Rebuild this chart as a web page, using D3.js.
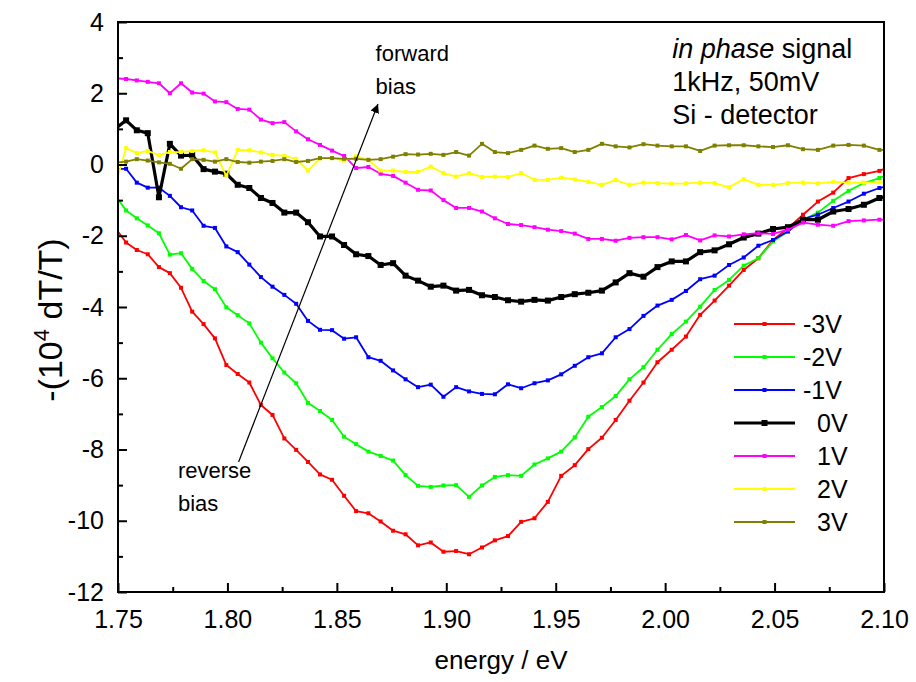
<!DOCTYPE html>
<html>
<head>
<meta charset="utf-8">
<script src="https://cdn.jsdelivr.net/npm/d3@7"></script>
<style>
  body { margin: 0; background: #fff; }
  svg text { font-family: "Liberation Sans", Arial, sans-serif; fill: #000; }
</style>
</head>
<body>
<div id="chart"></div>
<script>
//Data
const energy = [1.7487,1.7537,1.7586,1.7636,1.7687,1.7737,1.7788,1.7839,1.7891,1.7943,1.7995,1.8047,1.8100,1.8153,1.8206,1.8260,1.8314,1.8368,1.8423,1.8478,1.8533,1.8588,1.8644,1.8700,1.8757,1.8814,1.8871,1.8929,1.8987,1.9045,1.9104,1.9163,1.9222,1.9282,1.9342,1.9403,1.9464,1.9525,1.9587,1.9649,1.9711,1.9774,1.9837,1.9901,1.9965,2.0030,2.0095,2.0160,2.0226,2.0292,2.0359,2.0426,2.0493,2.0561,2.0630,2.0698,2.0768,2.0838,2.0908,2.0979,2.1050];

const minus3V = [-1.77,-2.19,-2.40,-2.52,-2.88,-3.05,-3.46,-4.13,-4.48,-4.88,-5.63,-5.88,-6.12,-6.75,-7.03,-7.69,-8.01,-8.35,-8.70,-8.85,-9.30,-9.73,-9.79,-10.02,-10.28,-10.38,-10.69,-10.61,-10.87,-10.85,-10.94,-10.75,-10.55,-10.43,-10.03,-9.93,-9.47,-8.74,-8.44,-7.99,-7.67,-7.17,-6.63,-6.12,-5.55,-5.20,-4.83,-4.22,-3.82,-3.40,-2.96,-2.63,-2.12,-1.79,-1.41,-1.04,-0.79,-0.38,-0.27,-0.18,0.00];
const minus2V = [-0.86,-1.29,-1.51,-1.71,-1.93,-2.53,-2.49,-2.93,-3.27,-3.50,-4.01,-4.23,-4.46,-5.00,-5.44,-5.84,-6.14,-6.69,-6.92,-7.17,-7.64,-7.85,-8.06,-8.18,-8.31,-8.72,-9.02,-9.05,-9.01,-9.00,-9.33,-9.01,-8.77,-8.72,-8.74,-8.42,-8.25,-8.06,-7.66,-7.08,-6.81,-6.50,-6.03,-5.69,-5.20,-4.76,-4.41,-3.99,-3.52,-3.24,-2.84,-2.63,-2.16,-1.88,-1.55,-1.35,-1.02,-0.74,-0.52,-0.38,-0.20];
const minus1V = [-0.12,-0.12,-0.51,-0.65,-0.65,-0.88,-1.20,-1.29,-1.72,-1.78,-2.30,-2.46,-2.81,-3.16,-3.43,-3.66,-3.91,-4.39,-4.64,-4.65,-4.89,-4.85,-5.41,-5.51,-5.78,-6.03,-6.25,-6.18,-6.52,-6.25,-6.37,-6.44,-6.45,-6.17,-6.28,-6.14,-6.06,-5.89,-5.65,-5.41,-5.30,-4.85,-4.62,-4.25,-3.96,-3.80,-3.55,-3.22,-3.12,-2.82,-2.61,-2.28,-2.12,-1.88,-1.53,-1.41,-1.22,-1.04,-0.82,-0.66,-0.55];
const zeroV = [1.00,1.24,0.96,0.88,-0.92,0.58,0.25,0.26,-0.13,-0.20,-0.26,-0.57,-0.66,-0.94,-1.08,-1.35,-1.35,-1.62,-2.02,-2.02,-2.26,-2.52,-2.57,-2.82,-2.77,-3.12,-3.26,-3.43,-3.40,-3.54,-3.52,-3.67,-3.72,-3.81,-3.85,-3.80,-3.82,-3.72,-3.64,-3.60,-3.54,-3.31,-3.05,-3.15,-2.88,-2.72,-2.72,-2.46,-2.41,-2.24,-2.05,-1.94,-1.81,-1.76,-1.55,-1.55,-1.32,-1.25,-1.13,-0.94,-0.85];
const plus1V = [2.42,2.40,2.36,2.32,2.28,2.00,2.28,2.02,1.99,1.77,1.75,1.56,1.54,1.26,1.16,1.19,0.93,0.71,0.55,0.39,0.24,-0.10,-0.07,-0.26,-0.32,-0.51,-0.71,-0.73,-1.00,-1.22,-1.22,-1.32,-1.51,-1.67,-1.70,-1.76,-1.83,-1.87,-1.94,-2.09,-2.09,-2.14,-2.06,-2.04,-2.04,-2.10,-1.98,-2.13,-1.99,-2.02,-1.96,-1.93,-1.95,-1.83,-1.63,-1.69,-1.72,-1.59,-1.57,-1.55,-1.55];
const plus2V = [-0.60,0.46,0.32,0.38,0.26,0.35,0.35,0.38,0.40,0.34,-0.32,0.41,0.40,0.34,0.27,0.24,0.16,-0.17,0.17,0.18,0.11,0.23,0.13,-0.17,-0.17,-0.21,-0.21,-0.06,-0.24,-0.34,-0.24,-0.35,-0.34,-0.35,-0.24,-0.43,-0.43,-0.37,-0.42,-0.49,-0.57,-0.44,-0.57,-0.51,-0.52,-0.54,-0.53,-0.51,-0.52,-0.64,-0.41,-0.57,-0.57,-0.52,-0.51,-0.53,-0.49,-0.51,-0.51,-0.50,-0.50];
const plus3V = [0.05,0.08,0.15,0.11,0.06,0.02,-0.12,0.15,0.13,0.08,0.15,0.07,0.05,0.08,0.10,0.15,0.07,0.10,0.18,0.18,0.16,0.16,0.13,0.15,0.22,0.29,0.28,0.30,0.27,0.35,0.25,0.58,0.35,0.32,0.41,0.53,0.44,0.46,0.35,0.41,0.58,0.51,0.48,0.57,0.53,0.51,0.51,0.38,0.53,0.54,0.54,0.51,0.49,0.54,0.43,0.41,0.53,0.55,0.53,0.41,0.42];

const seriesLabels = ['-3V', '-2V', '-1V', '0V', '1V', '2V', '3V'];
const seriesValues = [minus3V, minus2V, minus1V, zeroV, plus1V, plus2V, plus3V];
const seriesColors = ['#ff0000', '#00ff00', '#0000ff', '#000000', '#ff00ff', '#ffff00', '#808000'];

const xTicks = [1.75, 1.80, 1.85, 1.90, 1.95, 2.00, 2.05, 2.10];
const xMinor = [1.775, 1.825, 1.875, 1.925, 1.975, 2.025, 2.075];
const yTicks = [-12, -10, -8, -6, -4, -2, 0, 2, 4];
const yMinor = [-11, -9, -7, -5, -3, -1, 1, 3];

// arrow from reverse bias to forward bias, in data units
const arrowFrom = [1.8051, -8.35];
const arrowTo = [1.8688, 1.70];

//Layout
const W = 916, H = 682;
const margin = { top: 22, right: 32, bottom: 90, left: 118 };

const x = d3.scaleLinear().domain([1.75, 2.10]).range([margin.left, W - margin.right]);
const y = d3.scaleLinear().domain([-12, 4]).range([H - margin.bottom, margin.top]);

const svg = d3.select('#chart').append('svg').attr('width', W).attr('height', H);

svg.append('defs').append('clipPath').attr('id', 'plot-clip')
  .append('rect')
  .attr('x', margin.left).attr('y', margin.top)
  .attr('width', W - margin.left - margin.right)
  .attr('height', H - margin.top - margin.bottom);

// Series
const plot = svg.append('g').attr('clip-path', 'url(#plot-clip)');
const line = d3.line().x(d => x(d[0])).y(d => y(d[1]));

seriesValues.forEach((vals, i) => {
  const pts = vals.map((v, j) => [energy[j], v]);
  const isZero = seriesLabels[i] === '0V';
  const g = plot.append('g');
  g.append('path')
    .attr('d', line(pts))
    .attr('fill', 'none')
    .attr('stroke', seriesColors[i])
    .attr('stroke-width', isZero ? 3.2 : 1.8)
    .attr('stroke-linejoin', 'round');
  const s = isZero ? 6 : 4;
  g.selectAll('rect').data(pts).join('rect')
    .attr('x', d => x(d[0]) - s / 2)
    .attr('y', d => y(d[1]) - s / 2)
    .attr('width', s).attr('height', s)
    .attr('fill', seriesColors[i]);
});

// Axes
const yAxis = svg.append('g').attr('transform', `translate(${margin.left},0)`)
  .call(d3.axisLeft(y).tickValues(yTicks).tickSizeInner(-9).tickSizeOuter(0)
    .tickPadding(14).tickFormat(d => String(d)));
svg.append('g').attr('transform', `translate(${margin.left},0)`)
  .call(d3.axisLeft(y).tickValues(yMinor).tickSizeInner(-5).tickSizeOuter(0).tickFormat(''));

const xAxis = svg.append('g').attr('transform', `translate(0,${H - margin.bottom})`)
  .call(d3.axisBottom(x).tickValues(xTicks).tickSizeInner(-9).tickSizeOuter(0)
    .tickPadding(18).tickFormat(d3.format('.2f')));
svg.append('g').attr('transform', `translate(0,${H - margin.bottom})`)
  .call(d3.axisBottom(x).tickValues(xMinor).tickSizeInner(-5).tickSizeOuter(0).tickFormat(''));

svg.selectAll('.domain').remove();
svg.selectAll('.tick line').attr('stroke', '#000').attr('stroke-width', 2);
yAxis.selectAll('text').attr('font-size', 25).attr('fill', '#000');
xAxis.selectAll('text').attr('font-size', 25).attr('fill', '#000').attr('dy', '0.71em');

// frame
svg.append('rect')
  .attr('x', margin.left).attr('y', margin.top)
  .attr('width', W - margin.left - margin.right)
  .attr('height', H - margin.top - margin.bottom)
  .attr('fill', 'none').attr('stroke', '#000').attr('stroke-width', 2);

// Axis titles
svg.append('text')
  .attr('x', (margin.left + W - margin.right) / 2).attr('y', 669)
  .attr('text-anchor', 'middle').attr('font-size', 26)
  .text('energy / eV');

const yTitle = svg.append('text')
  .attr('transform', `translate(62,320) rotate(-90)`)
  .attr('text-anchor', 'middle').attr('font-size', 34);
yTitle.append('tspan').text('-(10');
yTitle.append('tspan').attr('font-size', 22).attr('dy', -13).text('4');
yTitle.append('tspan').attr('dy', 13).text(' dT/T)');

// Annotations
svg.append('defs').append('marker')
  .attr('id', 'arrowhead').attr('viewBox', '0 0 10 10')
  .attr('refX', 10).attr('refY', 5)
  .attr('markerWidth', 9).attr('markerHeight', 9)
  .attr('markerUnits', 'userSpaceOnUse')
  .attr('orient', 'auto')
  .append('path').attr('d', 'M0,0 L10,5 L0,10 Z').attr('fill', '#000');

svg.append('line')
  .attr('x1', x(arrowFrom[0])).attr('y1', y(arrowFrom[1]))
  .attr('x2', x(arrowTo[0])).attr('y2', y(arrowTo[1]))
  .attr('stroke', '#000').attr('stroke-width', 1.2)
  .attr('marker-end', 'url(#arrowhead)');

const annot = (lines, ex, ey) => {
  const t = svg.append('text').attr('font-size', 22);
  lines.forEach((s, i) => t.append('tspan')
    .attr('x', x(ex)).attr('y', y(ey) + i * 33).text(s));
};
annot(['forward', 'bias'], 1.8677, 2.9);
annot(['reverse', 'bias'], 1.7774, -8.8);

const info = svg.append('text').attr('font-size', 27);
const l1x = x(2.0032);
info.append('tspan').attr('x', l1x).attr('y', y(3.0)).attr('font-style', 'italic').text('in phase');
info.append('tspan').text(' signal');
info.append('tspan').attr('x', l1x).attr('y', y(3.0) + 33).text('1kHz, 50mV');
info.append('tspan').attr('x', l1x).attr('y', y(3.0) + 66).text('Si - detector');

// Legend
const legend = svg.append('g');
seriesLabels.forEach((lab, i) => {
  const ly = 324 + i * 33;
  const isZero = lab === '0V';
  legend.append('line')
    .attr('x1', 734).attr('x2', 795).attr('y1', ly).attr('y2', ly)
    .attr('stroke', seriesColors[i]).attr('stroke-width', isZero ? 3.2 : 1.8);
  const s = isZero ? 6 : 4;
  legend.append('rect')
    .attr('x', 764.5 - s / 2).attr('y', ly - s / 2).attr('width', s).attr('height', s)
    .attr('fill', seriesColors[i]);
  legend.append('text')
    .attr('x', lab.startsWith('-') ? 803 : 817).attr('y', ly)
    .attr('dy', '0.36em').attr('font-size', 25)
    .text(lab);
});
</script>
</body>
</html>
